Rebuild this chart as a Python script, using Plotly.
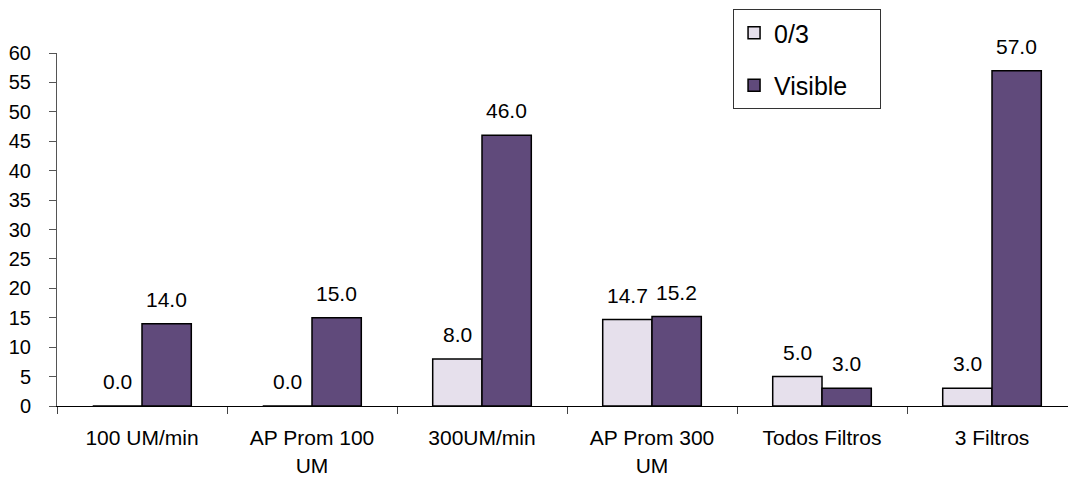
import plotly.graph_objects as go

categories = ["100 UM/min", "AP Prom 100<br>UM", "300UM/min", "AP Prom 300<br>UM", "Todos Filtros", "3 Filtros"]
series_03 = [0.0, 0.0, 8.0, 14.7, 5.0, 3.0]
series_visible = [14.0, 15.0, 46.0, 15.2, 3.0, 57.0]
y_ticks = list(range(0, 61, 5))

font = "Liberation Sans, Arial, sans-serif"

W, H = 1068, 479
ML, MR, MT, MB = 57, 0, 53, 73
X_RANGE = [-0.5, 5.447]
BARGAP = 0.42
PAD = "\u00a0" * 4  # extra room at the right of the legend box

fig = go.Figure()
series = [("0/3", series_03, "#E6E0EC"), ("Visible", series_visible, "#604A7B")]
for name, vals, col in series:
    fig.add_trace(go.Bar(
        name=name + PAD, x=categories, y=vals, legendgroup=name,
        marker=dict(color=col, line=dict(color="black", width=1.5)),
    ))

# value labels placed through the axes, shifted to each bar of the group
cat_px = (W - ML - MR) / (X_RANGE[1] - X_RANGE[0])
bar_px = cat_px * (1 - BARGAP) / len(series)
for i, (name, vals, col) in enumerate(series):
    shift = (i - (len(series) - 1) / 2) * bar_px
    for c, v in zip(categories, vals):
        fig.add_annotation(
            x=c, y=v, xref="x", yref="y", text=f"{v:.1f}",
            showarrow=False, yanchor="bottom", xanchor="center",
            xshift=shift, yshift=11,
            font=dict(family=font, size=21, color="black"),
        )

fig.update_layout(
    width=W, height=H,
    margin=dict(l=ML, r=MR, t=MT, b=MB),
    paper_bgcolor="white", plot_bgcolor="white",
    barmode="group", bargap=BARGAP, bargroupgap=0,
    font=dict(family=font, size=20, color="black"),
    showlegend=True,
    legend=dict(
        x=0.6687, y=1.1246, xanchor="left", yanchor="top",
        bordercolor="#333333", borderwidth=1, bgcolor="white",
        font=dict(family=font, size=25, color="black"),
        tracegroupgap=17, itemwidth=30,
    ),
    xaxis=dict(
        type="category", range=X_RANGE, automargin=False,
        showline=True, linecolor="black", linewidth=1,
        ticks="outside", tickson="boundaries", ticklen=7, tickcolor="#444444",
        tickfont=dict(family=font, size=21, color="black"),
        ticklabelstandoff=13,
        showgrid=False,
    ),
    yaxis=dict(
        range=[0, 60], tickvals=y_ticks, automargin=False,
        showline=True, linecolor="#555555", linewidth=1,
        ticks="outside", ticklen=7, tickcolor="#555555",
        tickfont=dict(family=font, size=20, color="black"),
        ticklabelstandoff=14,
        showgrid=False, zeroline=False,
    ),
)

fig.write_html("out.html")
